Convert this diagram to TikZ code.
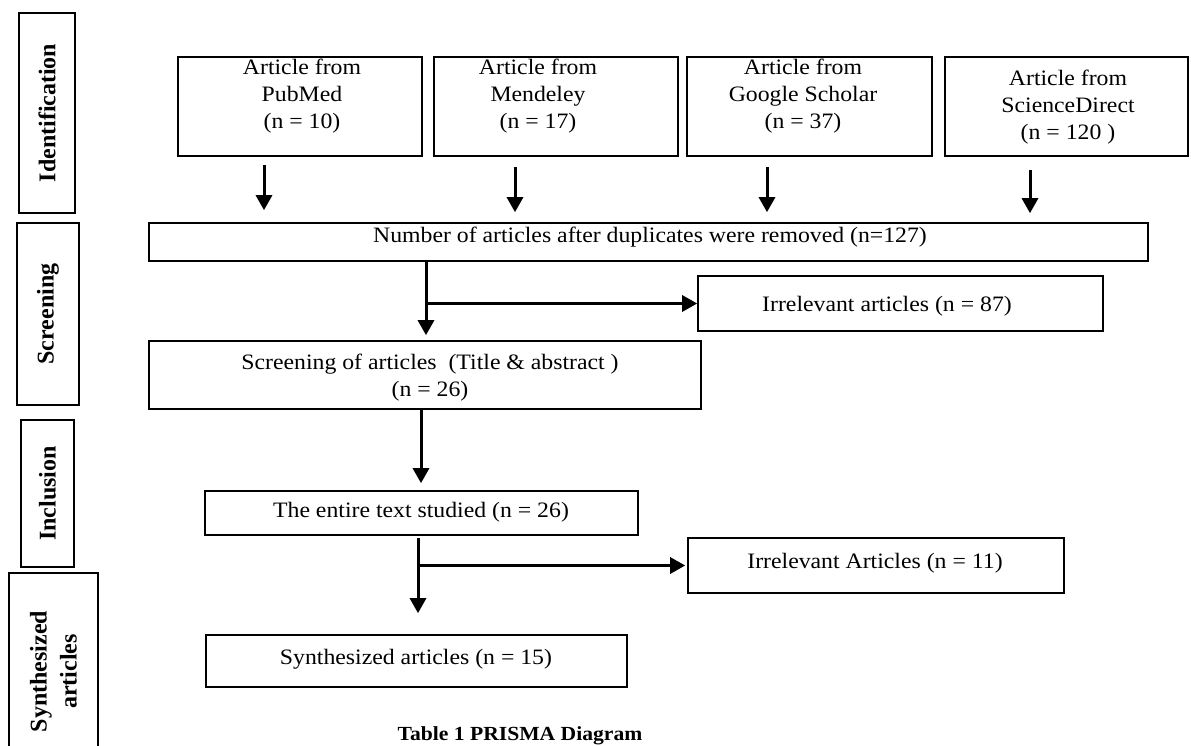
\documentclass[tikz,border=0pt]{standalone}
\usepackage{fontspec}
\setmainfont[FakeStretch=1.08]{Liberation Serif}
\newfontfamily\lblfont{Liberation Serif}
\usetikzlibrary{arrows.meta}
\begin{document}
\begin{tikzpicture}[x=1pt,y=-1pt,
  box/.style={draw, line width=1.6pt, inner sep=0pt},
  txt/.style={font=\fontsize{22}{27}\selectfont, align=center, inner sep=0pt},
  side/.style={draw, line width=1.6pt, inner sep=0pt, rotate=90, align=center,
    font=\lblfont\bfseries\fontsize{24}{30}\selectfont},
  arr/.style={line width=3pt, -{Triangle[width=16pt,length=15pt]}},
  captiontext/.style={font=\bfseries\fontsize{20}{24}\selectfont, inner sep=0pt, anchor=base}]
\useasboundingbox (0,0) rectangle (1191,746);
\clip (0,0) rectangle (1191,746);
\fill[white] (0,0) rectangle (1191,746);

% stage labels
\node[side, minimum width=200pt, minimum height=56pt] (idb) at (47,113) {Identification};
\node[side, minimum width=182pt, minimum height=62pt] (scb) at (48,314) {Screening};
\node[side, minimum width=147pt, minimum height=53pt] (inb) at (47.5,493.5) {Inclusion};
\node[side, minimum width=197pt, minimum height=89pt] (syb) at (53.5,671.5) {Synthesized\\articles};

% boxes
\node[box, minimum width=244pt, minimum height=99pt] (pub) at (300,106.5) {};
\node[box, minimum width=244pt, minimum height=99pt] (men) at (556,106.5) {};
\node[box, minimum width=245pt, minimum height=99pt] (gs) at (809.5,106.5) {};
\node[box, minimum width=243pt, minimum height=99pt] (sd) at (1066.5,106.5) {};
\node[box, minimum width=999pt, minimum height=38pt] (num) at (648.5,242) {};
\node[box, minimum width=405pt, minimum height=55pt] (irr1) at (900.5,303.5) {};
\node[box, minimum width=552pt, minimum height=68pt] (scr) at (425,375) {};
\node[box, minimum width=433pt, minimum height=44pt] (ent) at (421.5,513) {};
\node[box, minimum width=376pt, minimum height=55pt] (irr2) at (876,565.5) {};
\node[box, minimum width=421pt, minimum height=52pt] (syn) at (416.5,661) {};

% texts
\node[txt] (pubt) at (302,96) {Article from\\PubMed\\(n = 10)};
\node[txt] (ment) at (538,96) {Article from\\Mendeley\\(n = 17)};
\node[txt] (gst) at (803,96) {Article from\\Google Scholar\\(n = 37)};
\node[txt] (sdt) at (1068,107) {Article from\\ScienceDirect\\(n = 120 )};
\node[txt] (numt) at (650,237) {Number of articles after duplicates were removed (n=127)};
\node[txt] (irr1t) at (887,306) {Irrelevant articles (n = 87)};
\node[txt] (scrt) at (430,378) {Screening of articles \ (Title \& abstract )\\(n = 26)};
\node[txt] (entt) at (421,512) {The entire text studied (n = 26)};
\node[txt] (irr2t) at (875,563) {Irrelevant Articles (n = 11)};
\node[txt] (synt) at (416,659) {Synthesized articles (n = 15)};
\node[captiontext] (capt) at (520,740) {Table 1 PRISMA Diagram};

% arrow columns
\coordinate (c1) at (264,0);
\coordinate (c2) at (515,0);
\coordinate (c3) at (767,0);
\coordinate (c4) at (1030,0);
\coordinate (k1) at (426,0);
\coordinate (k2) at (421,0);
\coordinate (k3) at (418,0);

\draw[arr, shorten <=8pt, shorten >=12pt] (pub.south -| c1) -- (num.north -| c1);
\draw[arr, shorten <=10pt, shorten >=10pt] (men.south -| c2) -- (num.north -| c2);
\draw[arr, shorten <=10pt, shorten >=10pt] (gs.south -| c3) -- (num.north -| c3);
\draw[arr, shorten <=13pt, shorten >=9pt] (sd.south -| c4) -- (num.north -| c4);

\draw[arr, shorten >=5pt] (num.south -| k1) -- (scr.north -| k1);
\draw[arr] (k1 |- irr1.west) -- (irr1.west);
\draw[arr, shorten >=7pt] (scr.south -| k2) -- (ent.north -| k2);
\draw[arr, shorten <=2pt, shorten >=21pt] (ent.south -| k3) -- (syn.north -| k3);
\draw[arr, shorten >=2pt] (k3 |- irr2.west) -- (irr2.west);
\end{tikzpicture}
\end{document}
